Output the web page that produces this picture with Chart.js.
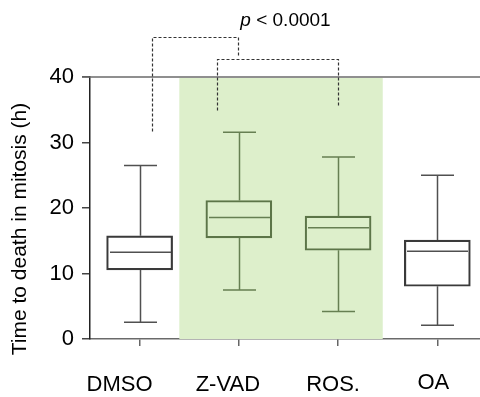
<!DOCTYPE html>
<html><head><meta charset="utf-8">
<script src="https://cdn.jsdelivr.net/npm/chart.js@4"></script>
<style>html,body{margin:0;padding:0;background:#fff}</style>
</head><body><canvas id="c" width="480" height="397"></canvas>
<script>
// ---- data ----
const categories = ['DMSO', 'Z-VAD', 'ROS.', 'OA'];
const whiskerLow  = [2.55, 7.5, 4.2, 2.1];
const q1          = [10.55, 15.45, 13.55, 8.05];
const median      = [13.25, 18.55, 17.0, 13.4];
const q3          = [15.75, 21.15, 18.75, 15.1];
const whiskerHigh = [26.5, 31.55, 27.8, 25.0];
const yTicks = [0, 10, 20, 30, 40];
const yTitle = 'Time to death in mitosis (h)';
const shadedRange = [1.4, 3.45];          // in category units
const bracketOuter = {x: [1.125, 1.125, 1.994, 1.994], y: [31.8, 46.1, 46.1, 43.2]};
const bracketInner = {x: [1.78, 1.78, 3.0, 3.0], y: [35.0, 42.8, 42.8, 35.5]};
const pLabel = {x: 2.47, y: 48.6, italic: 'p', rest: ' < 0.0001'};

// ---- styles ----
const FONT = 'Liberation Sans, Arial, sans-serif';
const greenFill = '#ddefcb';
const boxColors = ['#3a3a3a', '#5c7548', '#5c7548', '#3a3a3a'];
const whiskColors = ['#505050', '#667f52', '#667f52', '#505050'];
const labelShift = [-20, -11, -5, -4];
const labelLift = [0, 0, 0, -2];

const boxPlugin = {
  id: 'boxExtras',
  beforeDatasetsDraw(chart) {
    const {ctx, scales: {x, y}} = chart;
    ctx.save();
    ctx.fillStyle = greenFill;
    const x0 = x.getPixelForValue(shadedRange[0]);
    const x1 = x.getPixelForValue(shadedRange[1]);
    const yt = y.getPixelForValue(40) + 1;
    const yb = y.getPixelForValue(0);
    ctx.fillRect(x0, yt, x1 - x0, yb - yt);
    ctx.restore();
  },
  afterDatasetsDraw(chart) {
    const {ctx, scales: {x, y}} = chart;
    ctx.save();
    const half = 33, cap = 16.5;
    categories.forEach((c, i) => {
      const cx = Math.round(x.getPixelForValue(i + 1)) + 0.5;
      ctx.strokeStyle = whiskColors[i];
      ctx.lineWidth = 1.5;
      ctx.beginPath();
      ctx.moveTo(cx, y.getPixelForValue(whiskerHigh[i]));
      ctx.lineTo(cx, y.getPixelForValue(q3[i]));
      ctx.moveTo(cx, y.getPixelForValue(q1[i]));
      ctx.lineTo(cx, y.getPixelForValue(whiskerLow[i]));
      ctx.moveTo(cx - cap, y.getPixelForValue(whiskerHigh[i]));
      ctx.lineTo(cx + cap, y.getPixelForValue(whiskerHigh[i]));
      ctx.moveTo(cx - cap, y.getPixelForValue(whiskerLow[i]));
      ctx.lineTo(cx + cap, y.getPixelForValue(whiskerLow[i]));
      ctx.stroke();
      ctx.beginPath();
      ctx.moveTo(cx - half + 2.5, y.getPixelForValue(median[i]));
      ctx.lineTo(cx + half - 2.5, y.getPixelForValue(median[i]));
      ctx.stroke();
    });
    ctx.restore();
  },
  afterDraw(chart) {
    const {ctx, scales: {x, y}, chartArea} = chart;
    ctx.save();
    // top line at 40
    ctx.strokeStyle = '#6a6a6a';
    ctx.lineWidth = 1.5;
    const y40 = y.getPixelForValue(40);
    ctx.beginPath();
    ctx.moveTo(chartArea.left - 8, y40);
    ctx.lineTo(chart.width, y40);
    ctx.stroke();
    // brackets
    ctx.strokeStyle = '#333';
    ctx.lineWidth = 1.2;
    ctx.setLineDash([3, 2]);
    [bracketOuter, bracketInner].forEach(b => {
      ctx.beginPath();
      b.x.forEach((v, k) => {
        const px = Math.round(x.getPixelForValue(v)) + 0.5;
        const py = Math.round(y.getPixelForValue(b.y[k])) + 0.5;
        if (k === 0) ctx.moveTo(px, py); else ctx.lineTo(px, py);
      });
      ctx.stroke();
    });
    ctx.setLineDash([]);
    // p label
    ctx.fillStyle = '#000';
    ctx.textBaseline = 'middle';
    const fs = 19;
    ctx.font = `italic ${fs}px ${FONT}`;
    const w1 = ctx.measureText(pLabel.italic).width;
    ctx.font = `${fs}px ${FONT}`;
    const w2 = ctx.measureText(pLabel.rest).width;
    const px = x.getPixelForValue(pLabel.x) - (w1 + w2) / 2;
    const py = y.getPixelForValue(pLabel.y);
    ctx.font = `italic ${fs}px ${FONT}`;
    ctx.fillText(pLabel.italic, px, py);
    ctx.font = `${fs}px ${FONT}`;
    ctx.fillText(pLabel.rest, px + w1, py);
    // category labels
    ctx.font = `22px ${FONT}`;
    ctx.textAlign = 'center';
    ctx.textBaseline = 'alphabetic';
    categories.forEach((c, i) => {
      ctx.fillText(c, x.getPixelForValue(i + 1) + labelShift[i], chartArea.bottom + 52 + labelLift[i]);
    });
    // y-axis title
    ctx.save();
    ctx.translate(20, (chartArea.top + chartArea.bottom) / 2 + 21);
    ctx.rotate(-Math.PI / 2);
    ctx.font = `21px ${FONT}`;
    ctx.textAlign = 'center';
    ctx.textBaseline = 'middle';
    ctx.fillText(yTitle, 0, 0);
    ctx.restore();
    ctx.restore();
  }
};

new Chart(document.getElementById('c'), {
  type: 'bar',
  data: {
    datasets: [{
      data: categories.map((c, i) => ({x: i + 1, y: [q1[i], q3[i]]})),
      backgroundColor: 'rgba(0,0,0,0)',
      borderColor: boxColors,
      borderWidth: 1.5,
      borderSkipped: false,
      barThickness: 66
    }]
  },
  options: {
    responsive: false,
    animation: false,
    devicePixelRatio: 1,
    layout: {padding: {top: 77, right: 0, left: 0, bottom: 0}},
    plugins: {legend: {display: false}, tooltip: {enabled: false}},
    scales: {
      x: {
        type: 'linear', min: 0.5, max: 4.43, offset: false,
        afterBuildTicks: s => { s.ticks = categories.map((c, i) => ({value: i + 1})); },
        ticks: {display: false},
        grid: {drawOnChartArea: false, offset: false, tickLength: 7, color: '#666', lineWidth: 1.5},
        border: {color: '#6a6a6a', width: 1.5},
        afterFit: s => { s.height = 58; }
      },
      y: {
        min: 0, max: 40,
        afterBuildTicks: s => { s.ticks = yTicks.map(v => ({value: v})); },
        ticks: {font: {family: FONT, size: 22}, color: '#000', padding: 8},
        grid: {drawOnChartArea: false, tickLength: 8, color: '#444', lineWidth: 1.5},
        border: {color: '#222', width: 1.5},
        title: {display: false},
        afterFit: s => { s.width = 90; }
      }
    }
  },
  plugins: [boxPlugin]
});
</script>
</body></html>
